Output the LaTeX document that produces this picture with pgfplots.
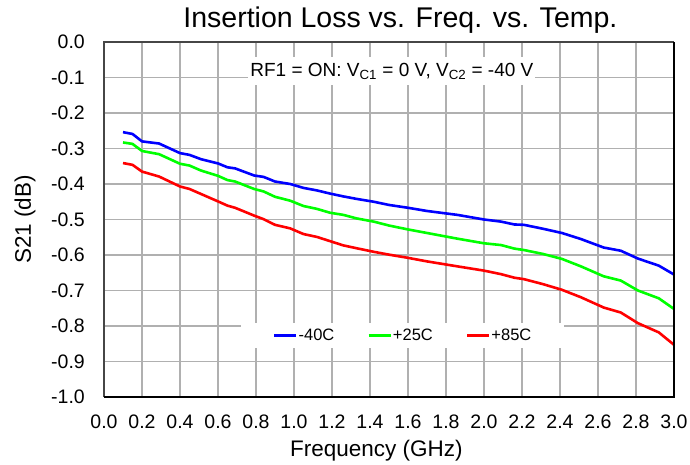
\documentclass[border=0pt]{standalone}
\usepackage{fontspec}
\setmainfont{Liberation Sans}
\usepackage{pgfplots}
\pgfplotsset{compat=1.18}
\definecolor{gridgray}{RGB}{176,176,176}
\definecolor{framegray}{RGB}{70,70,70}
\begin{document}
\begin{tikzpicture}
\begin{axis}[
  scale only axis, width=570pt, height=355pt,
  xmin=0, xmax=3, ymin=-1, ymax=0,
  xtick={0,0.2,0.4,0.6,0.8,1.0,1.2,1.4,1.6,1.8,2.0,2.2,2.4,2.6,2.8,3.0},
  ytick={-1,-0.9,-0.8,-0.7,-0.6,-0.5,-0.4,-0.3,-0.2,-0.1,0},
  /pgf/number format/assume math mode=true,
  /pgf/number format/.cd, fixed, fixed zerofill, precision=1, /pgfplots/.cd,
  grid=major, major grid style={draw=gridgray, line width=1.3pt},
  axis line style={draw=none},
  major tick length=0pt,
  tick label style={font=\fontsize{19.5}{23}\selectfont, inner sep=0pt},
  xticklabel style={anchor=north, yshift=-18pt},
  yticklabel style={anchor=east, xshift=-19pt},
  legend columns=3,
  legend style={at={(0.524,0.173)}, anchor=center, draw=none, fill=white,
    font=\fontsize{16.5}{19}\selectfont, inner xsep=32pt, inner ysep=5pt,
    nodes={inner sep=1pt},
    /tikz/every even column/.append style={column sep=32pt}},
  legend image code/.code={\draw[#1, line width=2.6pt] (0pt,0pt) -- (22pt,0pt);},
  clip=false,
]
\addplot[blue, line width=2.6pt, line join=round] coordinates {
(0.10,-0.254)(0.15,-0.259)(0.20,-0.280)(0.29,-0.286)(0.40,-0.313)(0.45,-0.318)(0.51,-0.330)(0.60,-0.342)(0.65,-0.353)(0.69,-0.356)(0.79,-0.376)(0.84,-0.380)(0.90,-0.393)(0.98,-0.400)(1.05,-0.411)(1.12,-0.418)(1.19,-0.427)(1.26,-0.435)(1.33,-0.442)(1.42,-0.450)(1.50,-0.459)(1.60,-0.467)(1.70,-0.476)(1.86,-0.487)(2.00,-0.500)(2.09,-0.506)(2.16,-0.514)(2.21,-0.515)(2.31,-0.526)(2.41,-0.538)(2.51,-0.555)(2.63,-0.579)(2.72,-0.588)(2.81,-0.610)(2.92,-0.630)(3.00,-0.655)};
\addlegendentry{-40C}
\addplot[green, line width=2.6pt, line join=round] coordinates {
(0.10,-0.283)(0.15,-0.287)(0.20,-0.307)(0.29,-0.316)(0.40,-0.343)(0.45,-0.348)(0.51,-0.362)(0.60,-0.377)(0.65,-0.389)(0.69,-0.393)(0.79,-0.414)(0.84,-0.421)(0.90,-0.436)(0.98,-0.447)(1.05,-0.462)(1.12,-0.470)(1.19,-0.481)(1.26,-0.487)(1.33,-0.497)(1.42,-0.506)(1.50,-0.517)(1.60,-0.528)(1.70,-0.538)(1.86,-0.554)(2.00,-0.567)(2.09,-0.572)(2.16,-0.582)(2.21,-0.586)(2.31,-0.597)(2.41,-0.611)(2.51,-0.632)(2.63,-0.660)(2.72,-0.672)(2.81,-0.700)(2.92,-0.722)(3.00,-0.752)};
\addlegendentry{+25C}
\addplot[red, line width=2.6pt, line join=round] coordinates {
(0.10,-0.341)(0.15,-0.346)(0.20,-0.365)(0.29,-0.379)(0.40,-0.407)(0.45,-0.414)(0.51,-0.428)(0.60,-0.449)(0.65,-0.461)(0.69,-0.467)(0.79,-0.489)(0.84,-0.499)(0.90,-0.515)(0.98,-0.525)(1.05,-0.541)(1.12,-0.549)(1.19,-0.561)(1.26,-0.573)(1.33,-0.581)(1.42,-0.591)(1.50,-0.599)(1.60,-0.608)(1.70,-0.618)(1.86,-0.632)(2.00,-0.644)(2.09,-0.654)(2.16,-0.664)(2.21,-0.668)(2.31,-0.682)(2.41,-0.698)(2.51,-0.719)(2.63,-0.748)(2.72,-0.762)(2.81,-0.792)(2.92,-0.818)(3.00,-0.853)};
\addlegendentry{+85C}
\draw[framegray, line width=2pt] (rel axis cs:0,0) -- (rel axis cs:0,1) -- (rel axis cs:1,1);
\draw[black, line width=2pt] (rel axis cs:0,0) -- (rel axis cs:1,0) -- (rel axis cs:1,1);
\node[fill=white, inner xsep=2pt, inner ysep=6pt, font=\fontsize{19}{22}\selectfont] at (rel axis cs:0.505,0.918) {RF1 = ON: V\textsubscript{C1} = 0 V, V\textsubscript{C2} = -40 V};
\node[anchor=base, font=\fontsize{28.5}{33}\selectfont] at ([yshift=14.7pt]rel axis cs:0.52,1) {Insertion Loss vs. Freq. vs. Temp.};
\node[anchor=base, font=\fontsize{22.5}{26}\selectfont] at ([yshift=-59pt]rel axis cs:0.478,0) {Frequency (GHz)};
\node[anchor=base, rotate=90, font=\fontsize{22.5}{26}\selectfont] at ([xshift=-73pt]rel axis cs:0,0.5) {S21 (dB)};
\coordinate (sw) at (rel axis cs:0,0);
\coordinate (ne) at (rel axis cs:1,1);
\end{axis}
\path ([xshift=-104pt,yshift=-66pt]sw) rectangle ([xshift=16pt,yshift=42pt]ne);
\end{tikzpicture}
\end{document}
